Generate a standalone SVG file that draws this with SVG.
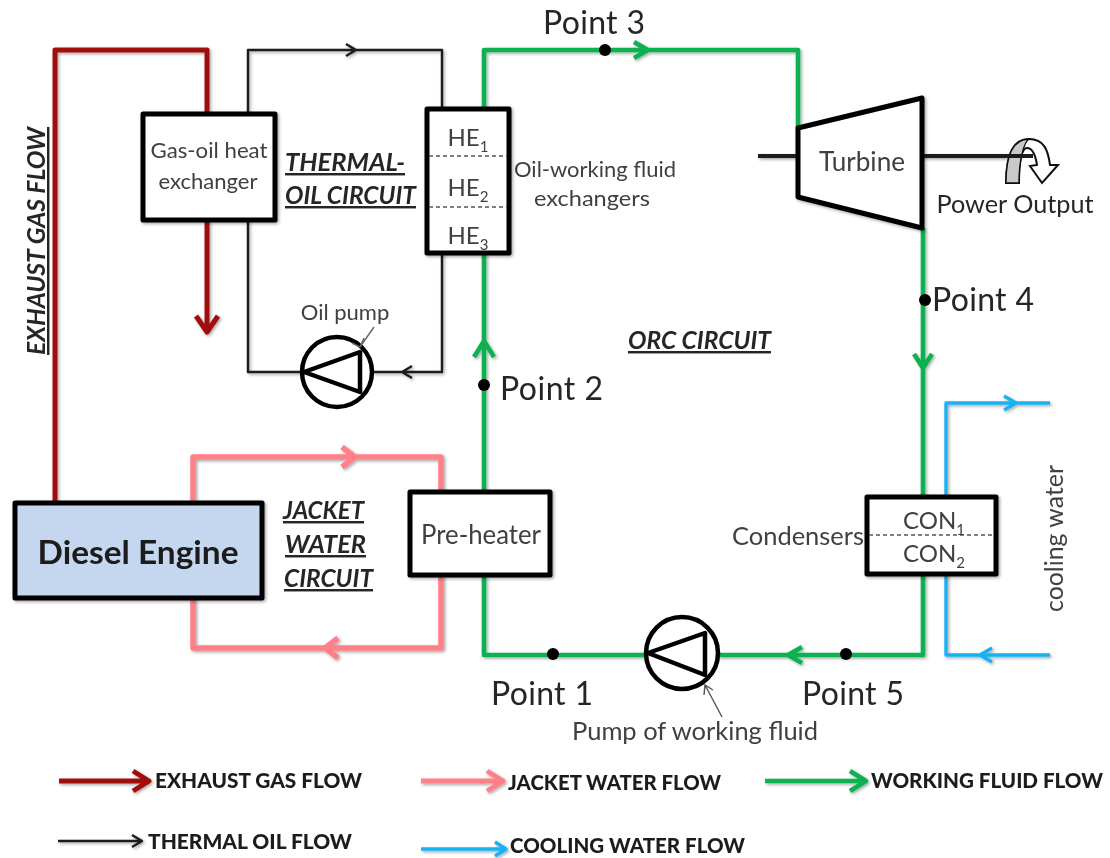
<svg xmlns="http://www.w3.org/2000/svg" width="1110" height="858" viewBox="0 0 1110 858">
<style>
text{font-family:Lato,"Open Sans","Liberation Sans",sans-serif;fill:#404040}
.pt{font-size:32px;fill:#262626}
.lbl{font-size:22px}
.lbl2{font-size:25px}
.he{font-size:24px;text-anchor:middle}
.sub{font-size:15px}
.cir{font-size:24.5px;font-weight:700;font-style:italic;fill:#262626;text-decoration:underline}
.leg{font-size:20.5px;font-weight:900;fill:#1f1f1f}
.box{fill:#fff;stroke:#000;stroke-width:5;stroke-linejoin:round;filter:url(#sh)}
.dash{stroke:#555;stroke-width:1.6;stroke-dasharray:4 3;fill:none}
.line{fill:none;stroke-linejoin:round;filter:url(#sh)}
.red{stroke:#a00f0f;stroke-width:5}
.oil{stroke:#1c1c1c;stroke-width:2.4}
.grn{stroke:#0cb14f;stroke-width:4.6}
.pnk{stroke:#ff8087;stroke-width:5.5}
.blu{stroke:#19b2f2;stroke-width:3.4}
.dot{fill:#000}
.pump{fill:#fff;stroke:#000;stroke-width:4.5;stroke-linejoin:round}
</style>
<defs>
<filter id="sh" x="0" y="0" width="1110" height="858" filterUnits="userSpaceOnUse">
<feDropShadow dx="1.5" dy="1.5" stdDeviation="1.5" flood-color="#000" flood-opacity="0.35"/>
</filter>
<filter id="soft" x="0" y="0" width="1110" height="858" filterUnits="userSpaceOnUse">
<feGaussianBlur stdDeviation="0.55"/>
</filter>
</defs>
<rect width="1110" height="858" fill="#fff"/>
<g filter="url(#soft)">
<g id="connectors">
<path class="line red" d="M55 503V50H207V113"/>
<path class="line red" d="M207 220V331M196 316L207 332L218 316"/>
<path class="line oil" d="M248 113V50H442V108M346 44L356 50L346 56"/>
<path class="line oil" d="M442 252V372H373M412 366L402 372L412 378"/>
<path class="line oil" d="M302 372H248V220"/>
<path class="line grn" d="M484 108V50H798V128M634 42L648 50L634 58"/>
<path class="line grn" d="M484 252V491M474 357L484 341L494 357"/>
<path class="line grn" d="M484 575V655H646"/>
<path class="line grn" d="M718 655H923V574M802 647L788 655L802 663"/>
<path class="line grn" d="M923 496V228M914 354L923 368L932 354"/>
<path class="line pnk" d="M193 503V457H441V491M342 447L355 457L342 467"/>
<path class="line pnk" d="M441 575V648H193V598M338 638L325 648L338 658"/>
<path class="line blu" d="M1050 403H946V497M1004 396L1016 403L1004 410"/>
<path class="line blu" d="M946 574V655H1050M992 648L980 655L992 662"/>
<path class="line oil" style="stroke-width:4" d="M758 156H798M922 156H1006"/>
</g>
<g id="diesel-engine">
<rect class="box" x="15" y="503" width="247" height="95" style="fill:#c5d7ee"/>
<text x="138" y="564" text-anchor="middle" style="font-size:33px;font-weight:700;fill:#1a1a1a" textLength="201" lengthAdjust="spacingAndGlyphs">Diesel Engine</text>
</g>
<g id="gas-oil-heat-exchanger">
<rect class="box" x="143" y="114" width="132" height="106"/>
<text class="lbl" x="209" y="158" text-anchor="middle" textLength="117" lengthAdjust="spacingAndGlyphs">Gas-oil heat</text>
<text class="lbl" x="208" y="189" text-anchor="middle" textLength="99" lengthAdjust="spacingAndGlyphs">exchanger</text>
</g>
<g id="he">
<rect class="box" x="427" y="109" width="82" height="144"/>
<path class="dash" d="M429 156H507M429 207H507"/>
<text class="he" x="468" y="146">HE<tspan class="sub" dy="6">1</tspan></text>
<text class="he" x="468" y="196">HE<tspan class="sub" dy="6">2</tspan></text>
<text class="he" x="468" y="244">HE<tspan class="sub" dy="6">3</tspan></text>
</g>
<g id="pre-heater">
<rect class="box" x="410" y="492" width="140" height="83"/>
<text x="481" y="544" text-anchor="middle" style="font-size:26px" textLength="120" lengthAdjust="spacingAndGlyphs">Pre-heater</text>
</g>
<g id="condensers">
<rect class="box" x="867" y="497" width="129" height="77"/>
<path class="dash" d="M869 535H994"/>
<text class="he" x="934" y="529">CON<tspan class="sub" dy="6">1</tspan></text>
<text class="he" x="934" y="562">CON<tspan class="sub" dy="6">2</tspan></text>
</g>
<g id="turbine">
<path class="box" d="M798 128L922 98V228L798 197Z"/>
<text x="862" y="171" text-anchor="middle" style="font-size:26px" textLength="86" lengthAdjust="spacingAndGlyphs">Turbine</text>
</g>
<g id="oil-pump">
<circle class="pump" cx="337" cy="372" r="35"/>
<path class="pump" style="fill:none" d="M304 372L360 352V392Z"/>
<text class="lbl" x="345" y="320" text-anchor="middle">Oil pump</text>
<path d="M374 327L360 347M352 343L360 347L364 338" fill="none" stroke="#666" stroke-width="1.4"/>
</g>
<g id="working-pump">
<circle class="pump" cx="682" cy="653" r="36"/>
<path class="pump" style="fill:none" d="M648 653L705 633V675Z"/>
<text class="lbl2" x="695" y="740" text-anchor="middle" textLength="246" lengthAdjust="spacingAndGlyphs">Pump of working fluid</text>
<path d="M722 717L705 685M704 695L705 685L713 690" fill="none" stroke="#555" stroke-width="1.4"/>
</g>
<g id="power-output">
<path d="M1006 183C1006 150 1016 139 1029 139C1044 139 1048 150 1050 165L1058 165L1042 183L1030 166L1037 165C1035 152 1031 148 1027 148C1022 148 1019 160 1019 183Z" fill="#fff" stroke="#111" stroke-width="2"/>
<path d="M1006 183C1006 150 1016 139 1029 139C1024 142 1019 160 1019 183Z" fill="#c9c9c9" stroke="#111" stroke-width="1.4"/>
<path d="M1005 156H1033" stroke="#1c1c1c" stroke-width="4" fill="none"/>
<text x="1015" y="213" text-anchor="middle" style="font-size:25px;fill:#262626" textLength="157" lengthAdjust="spacingAndGlyphs">Power Output</text>
</g>
<g id="points">
<circle class="dot" cx="605" cy="50" r="6"/>
<circle class="dot" cx="484" cy="385" r="6"/>
<circle class="dot" cx="925" cy="300" r="6"/>
<circle class="dot" cx="553" cy="654" r="6"/>
<circle class="dot" cx="846" cy="654" r="6"/>
<text class="pt" x="543" y="34" textLength="102">Point 3</text>
<text class="pt" x="500" y="400" textLength="103">Point 2</text>
<text class="pt" x="932" y="311" textLength="102">Point 4</text>
<text class="pt" x="491" y="705" textLength="102">Point 1</text>
<text class="pt" x="802" y="705" textLength="102">Point 5</text>
</g>
<g id="labels">
<text class="cir" transform="translate(45,355) rotate(-90)" textLength="228" lengthAdjust="spacingAndGlyphs">EXHAUST GAS FLOW</text>
<text class="cir" x="285" y="171" textLength="120" lengthAdjust="spacingAndGlyphs">THERMAL-</text>
<text class="cir" x="285" y="204" textLength="131" lengthAdjust="spacingAndGlyphs">OIL CIRCUIT</text>
<text class="cir" x="628" y="349" textLength="143" lengthAdjust="spacingAndGlyphs">ORC CIRCUIT</text>
<text class="cir" x="283" y="519" textLength="81" lengthAdjust="spacingAndGlyphs">JACKET</text>
<text class="cir" x="285" y="553" textLength="81" lengthAdjust="spacingAndGlyphs">WATER</text>
<text class="cir" x="284" y="587" textLength="89" lengthAdjust="spacingAndGlyphs">CIRCUIT</text>
<text class="lbl" x="595" y="177" text-anchor="middle" textLength="162" lengthAdjust="spacingAndGlyphs">Oil-working fluid</text>
<text class="lbl" x="592" y="206" text-anchor="middle" textLength="116" lengthAdjust="spacingAndGlyphs">exchangers</text>
<text class="lbl2" x="732" y="545" textLength="132" lengthAdjust="spacingAndGlyphs">Condensers</text>
<text class="lbl2" transform="translate(1063,612) rotate(-90)" textLength="147" lengthAdjust="spacingAndGlyphs">cooling water</text>
</g>
<g id="legend">
<path class="line red" d="M59 781H148M133 771L149 781L133 791"/>
<text class="leg" x="155" y="788" textLength="207" lengthAdjust="spacingAndGlyphs">EXHAUST GAS FLOW</text>
<path class="line pnk" style="stroke-width:5" d="M421 781H503M487 771L503 781L487 791"/>
<text class="leg" x="508" y="790" textLength="213" lengthAdjust="spacingAndGlyphs">JACKET WATER FLOW</text>
<path class="line grn" d="M765 781H864M850 771L866 781L850 791"/>
<text class="leg" x="871" y="788" textLength="232" lengthAdjust="spacingAndGlyphs">WORKING FLUID FLOW</text>
<path class="line oil" d="M58 841H142M132 835L142 841L132 847"/>
<text class="leg" x="148" y="849" textLength="204" lengthAdjust="spacingAndGlyphs">THERMAL OIL FLOW</text>
<path class="line blu" d="M421 849H505M495 842L506 849L495 856"/>
<text class="leg" x="510" y="853" textLength="235" lengthAdjust="spacingAndGlyphs">COOLING WATER FLOW</text>
</g>
</g>
</svg>
